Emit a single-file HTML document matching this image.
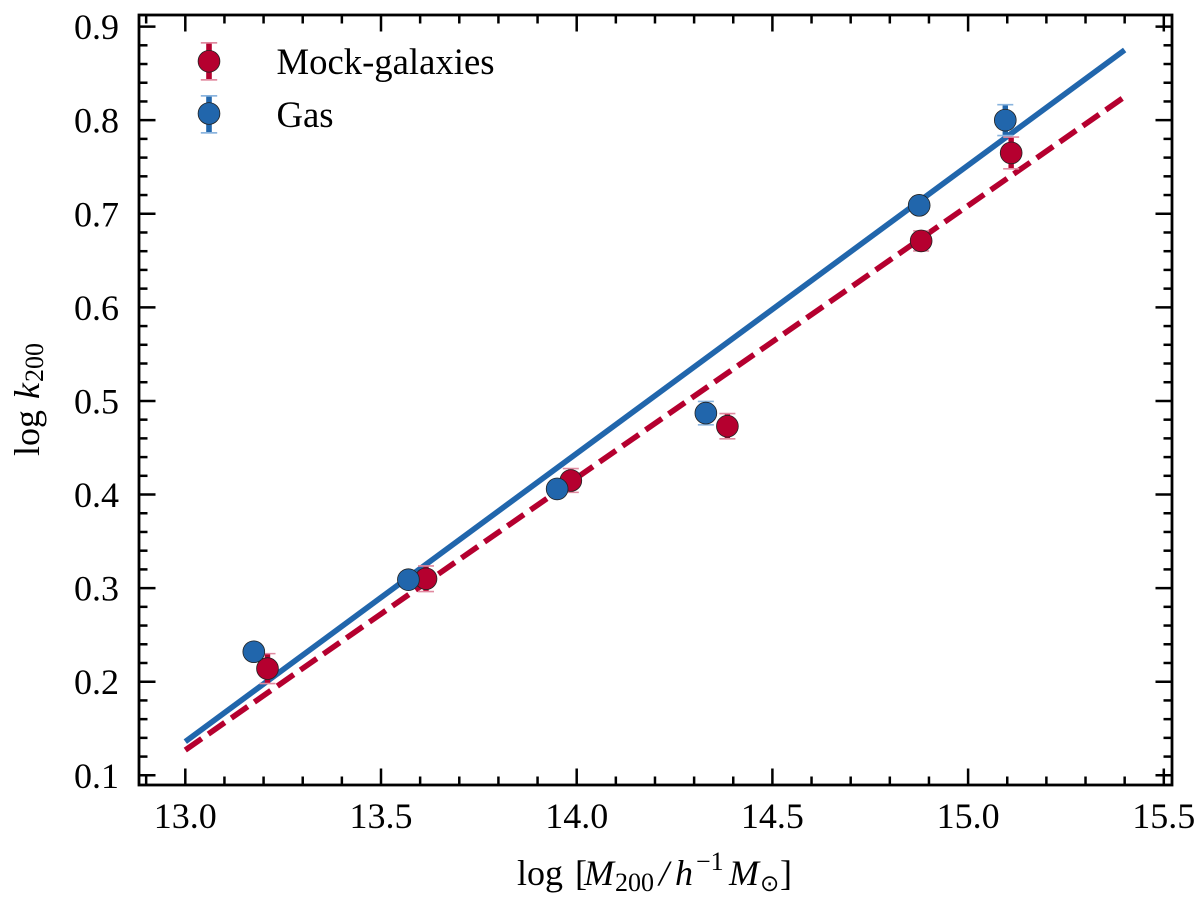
<!DOCTYPE html>
<html lang="en">
<head>
<meta charset="utf-8">
<title>log k200 vs log M200</title>
<style>
html,body{margin:0;padding:0;background:#fff;}
svg{display:block;}
text{font-family:"Liberation Serif","DejaVu Serif",serif;fill:#000;}
</style>
</head>
<body>
<svg id="chart" width="1200" height="907" viewBox="0 0 1200 907" xmlns="http://www.w3.org/2000/svg">
  <rect x="0" y="0" width="1200" height="907" fill="#ffffff"/>
  <g id="lines"></g>
  <g id="series"></g>
  <g id="ticks"></g>
  <rect x="139" y="15" width="1033" height="770" fill="none" stroke="#000" stroke-width="2.8"/>
  <g id="tick-labels" font-size="36"></g>

  <g>
    <g id="legend-mock">
      <rect x="206.2" y="43" width="5.6" height="37" fill="#b5002f"/>
      <rect x="200.8" y="42" width="16.4" height="1.7" fill="#e08aa0"/>
      <rect x="200.8" y="79" width="16.4" height="1.7" fill="#e08aa0"/>
      <circle cx="209" cy="61.3" r="10.9" fill="#b5002f" stroke="#222" stroke-width="0.8"/>
      <text x="276.5" y="74" font-size="36.7">Mock-galaxies</text>
    </g>
    <g id="legend-gas">
      <rect x="206.2" y="96" width="5.6" height="37" fill="#2166ac"/>
      <rect x="200.8" y="95" width="16.4" height="1.7" fill="#8ab4de"/>
      <rect x="200.8" y="132" width="16.4" height="1.7" fill="#8ab4de"/>
      <circle cx="209" cy="113.5" r="10.9" fill="#2166ac" stroke="#222" stroke-width="0.8"/>
      <text x="276.5" y="127" font-size="36.7">Gas</text>
    </g>
  </g>

  <g font-size="36">
    <text x="517" y="885">log</text>
    <text x="575" y="885">[</text>
    <text x="584" y="885" font-style="italic">M</text>
    <text x="615" y="891" font-size="26">200</text>
    <text x="659" y="885" font-style="italic">/</text>
    <text x="675" y="885" font-style="italic">h</text>
    <text x="696" y="870" font-size="26">−1</text>
    <text x="729" y="885" font-style="italic">M</text>
    <text x="760" y="891" font-size="23" style="font-family:'DejaVu Sans',sans-serif">⊙</text>
    <text x="780" y="885">]</text>
  </g>
  <g font-size="36">
    <text transform="translate(39,456) rotate(-90)">log</text>
    <text transform="translate(39,399) rotate(-90)" font-style="italic">k</text>
    <text transform="translate(43,382) rotate(-90)" font-size="26">200</text>
  </g>
</svg>
<script>
// Chart data
const xMajorTicks = [13.0, 13.5, 14.0, 14.5, 15.0, 15.5];
const xTickLabels = ["13.0", "13.5", "14.0", "14.5", "15.0", "15.5"];
const yMajorTicks = [0.1, 0.2, 0.3, 0.4, 0.5, 0.6, 0.7, 0.8, 0.9];
const yTickLabels = ["0.1", "0.2", "0.3", "0.4", "0.5", "0.6", "0.7", "0.8", "0.9"];
const xMinorTicks = [12.9, 13.1, 13.2, 13.3, 13.4, 13.6, 13.7, 13.8, 13.9, 14.1, 14.2, 14.3, 14.4, 14.6, 14.7, 14.8, 14.9, 15.1, 15.2, 15.3, 15.4];
const yMinorTicks = [0.12, 0.14, 0.16, 0.18, 0.22, 0.24, 0.26, 0.28, 0.32, 0.34, 0.36, 0.38, 0.42, 0.44, 0.46, 0.48, 0.52, 0.54, 0.56, 0.58, 0.62, 0.64, 0.66, 0.68, 0.72, 0.74, 0.76, 0.78, 0.82, 0.84, 0.86, 0.88];

const mockMass = [13.21, 13.615, 13.985, 14.385, 14.88, 15.11];
const mockK = [0.214, 0.310, 0.415, 0.473, 0.671, 0.765];
const mockErr = [0.016, 0.0137, 0.0127, 0.0135, 0.0107, 0.017];

const gasMass = [13.175, 13.57, 13.95, 14.33, 14.875, 15.095];
const gasK = [0.232, 0.309, 0.406, 0.487, 0.709, 0.800];
const gasErr = [0.008, 0.008, 0.008, 0.0125, 0.006, 0.0165];

const fitMass = [13.0, 15.4];
const gasFit = [0.136, 0.875];
const mockFit = [0.127, 0.825];

// Axis functions
function xScale(v) { return 185.3 + (v - 13.0) * 391.4; }
function yScale(v) { return 775.3 - (v - 0.1) * 935.9; }

const NS = "http://www.w3.org/2000/svg";
const RED = "#b5002f", BLUE = "#2166ac";
const PLOT_L = 139, PLOT_R = 1172, PLOT_T = 15, PLOT_B = 785;

function svgEl(tag, attrs) {
  const el = document.createElementNS(NS, tag);
  for (const k in attrs) el.setAttribute(k, attrs[k]);
  return el;
}

const ticksG = document.getElementById("ticks");
const labelsG = document.getElementById("tick-labels");
const linesG = document.getElementById("lines");
const seriesG = document.getElementById("series");

function tickSegment(x1, y1, x2, y2, name) {
  const el = svgEl("line", { x1: x1, y1: y1, x2: x2, y2: y2, stroke: "#000", "stroke-width": 2.5 });
  
  
  ticksG.appendChild(el);
}

xMajorTicks.forEach(function (v) {
  const x = xScale(v);
  tickSegment(x, PLOT_B, x, PLOT_B - 16.5, "x-major-tick-bottom");
  tickSegment(x, PLOT_T, x, PLOT_T + 16.5, "x-major-tick-top");
});
xMinorTicks.forEach(function (v) {
  const x = xScale(v);
  tickSegment(x, PLOT_B, x, PLOT_B - 8.5, "x-minor-tick-bottom");
  tickSegment(x, PLOT_T, x, PLOT_T + 8.5, "x-minor-tick-top");
});
yMajorTicks.forEach(function (v) {
  const y = yScale(v);
  tickSegment(PLOT_L, y, PLOT_L + 16.5, y, "y-major-tick-left");
  tickSegment(PLOT_R, y, PLOT_R - 16.5, y, "y-major-tick-right");
});
yMinorTicks.forEach(function (v) {
  const y = yScale(v);
  tickSegment(PLOT_L, y, PLOT_L + 8.5, y, "y-minor-tick-left");
  tickSegment(PLOT_R, y, PLOT_R - 8.5, y, "y-minor-tick-right");
});

xMajorTicks.forEach(function (v, i) {
  const t = svgEl("text", { x: xScale(v), y: 828, "text-anchor": "middle" });
  
  
  t.textContent = xTickLabels[i];
  labelsG.appendChild(t);
});
yMajorTicks.forEach(function (v, i) {
  const t = svgEl("text", { x: 119, y: yScale(v) + 12.5, "text-anchor": "end" });
  
  
  t.textContent = yTickLabels[i];
  labelsG.appendChild(t);
});

function drawFit(values, color, dash, name) {
  const el = svgEl("line", {
    x1: xScale(fitMass[0]), y1: yScale(values[0]),
    x2: xScale(fitMass[1]), y2: yScale(values[1]),
    stroke: color, "stroke-width": 5.6
  });
  if (dash) el.setAttribute("stroke-dasharray", dash);
  
  
  linesG.appendChild(el);
}
drawFit(mockFit, RED, "20 8.03", "mock-galaxies-fit-line");
drawFit(gasFit, BLUE, null, "gas-fit-line");

function drawSeries(xs, ys, errs, color, capColor, name) {
  xs.forEach(function (xv, i) {
    const cx = xScale(xs[i]), cy = yScale(ys[i]);
    const top = yScale(ys[i] + errs[i]), bottom = yScale(ys[i] - errs[i]);
    const g = svgEl("g", {});
    
    

    const bar = svgEl("line", { x1: cx, y1: top, x2: cx, y2: bottom, stroke: color, "stroke-width": 5.4 });
    
    
    g.appendChild(bar);

    [top, bottom].forEach(function (capY) {
      const cap = svgEl("line", { x1: cx - 8, y1: capY, x2: cx + 8, y2: capY, stroke: capColor, "stroke-width": 1.6 });
      
      
      g.appendChild(cap);
    });

    const dot = svgEl("circle", { cx: cx, cy: cy, r: 10.9, fill: color, stroke: "#222", "stroke-width": 0.8 });
    
    
    g.appendChild(dot);

    seriesG.appendChild(g);
  });
}
drawSeries(mockMass, mockK, mockErr, RED, "#e08aa0", "mock-galaxies");
drawSeries(gasMass, gasK, gasErr, BLUE, "#8ab4de", "gas");
</script>
</body>
</html>
